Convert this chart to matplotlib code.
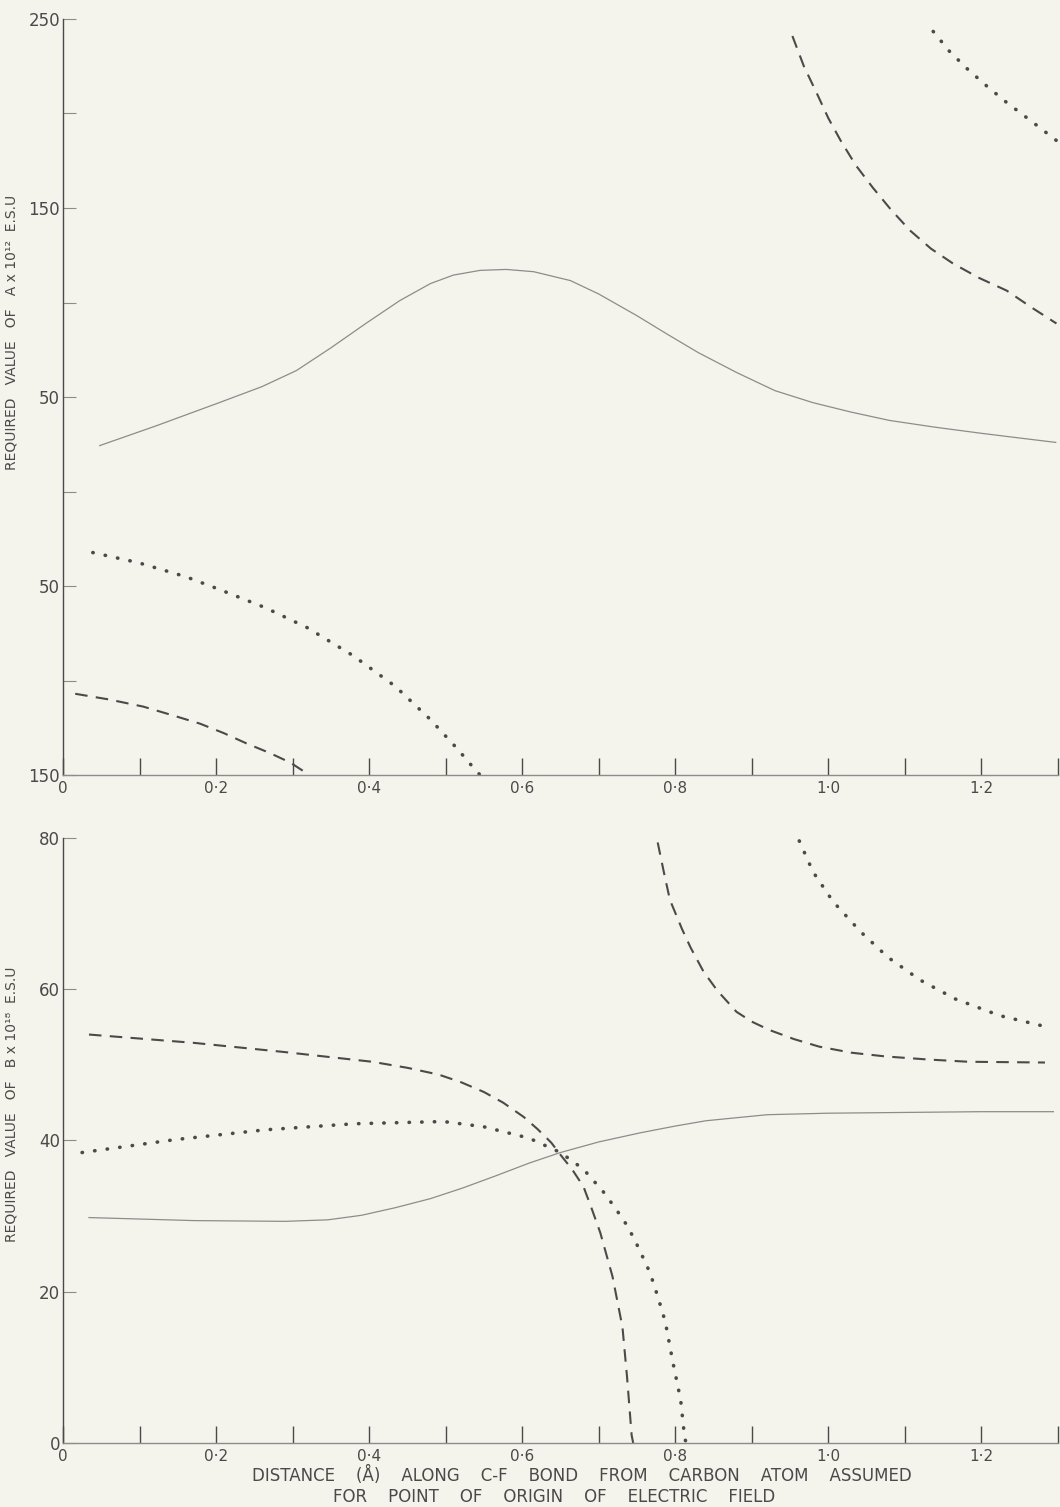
import matplotlib.pyplot as plt
from matplotlib.ticker import FixedLocator, FixedFormatter

# ---- panel A (top) ----
a_solid_x = [0.048, 0.12, 0.204, 0.26, 0.305, 0.35, 0.396, 0.44, 0.48, 0.51, 0.545, 0.579, 0.615, 0.663, 0.70,
             0.75, 0.788, 0.83, 0.88, 0.93, 0.98, 1.03, 1.08, 1.14, 1.2, 1.25, 1.297]
a_solid_y = [24.3, 34.5, 47.0, 55.5, 64.0, 76.0, 89.0, 101.0, 110.0, 114.5, 117.0, 117.5, 116.3, 111.6, 104.5,
             93.0, 83.6, 73.5, 63.0, 53.4, 47.0, 42.0, 37.6, 34.0, 30.8, 28.3, 26.0]

a_dot_x = [0.039, 0.098, 0.16, 0.205, 0.264, 0.319, 0.379, 0.434, 0.48, 0.515, 0.536, 0.545]
a_dot_y = [-32.3, -37.6, -45.0, -51.9, -61.4, -72.0, -86.8, -103.0, -120.6, -136.0, -146.0, -150.0]

a_dash_x = [0.016, 0.06, 0.105, 0.14, 0.179, 0.21, 0.24, 0.27, 0.297, 0.319]
a_dash_y = [-107.0, -110.0, -113.8, -118.0, -122.8, -127.8, -133.3, -138.3, -143.4, -149.2]

a_dash2_x = [0.953, 0.968, 0.985, 1.0, 1.016, 1.036, 1.058, 1.082, 1.107, 1.134, 1.163, 1.197, 1.233, 1.265, 1.298]
a_dash2_y = [241.0, 225.0, 210.6, 197.5, 185.7, 172.5, 160.8, 149.0, 138.0, 128.5, 120.6, 113.0, 106.3, 97.5, 88.9]

a_dot2_x = [1.137, 1.158, 1.181, 1.207, 1.233, 1.265, 1.298]
a_dot2_y = [243.4, 233.0, 223.8, 214.5, 205.8, 196.0, 185.7]

# ---- panel B (bottom) ----
b_solid_x = [0.034, 0.171, 0.29, 0.346, 0.39, 0.434, 0.48, 0.522, 0.565, 0.609, 0.65, 0.70, 0.754, 0.80,
             0.84, 0.92, 1.0, 1.1, 1.2, 1.294]
b_solid_y = [29.8, 29.4, 29.3, 29.5, 30.1, 31.1, 32.3, 33.7, 35.3, 37.0, 38.4, 39.8, 41.0, 41.9,
             42.6, 43.4, 43.6, 43.7, 43.8, 43.8]

b_dash_x = [0.034, 0.171, 0.288, 0.404, 0.45, 0.491, 0.52, 0.55, 0.575, 0.602, 0.62, 0.638, 0.65, 0.665,
            0.68, 0.69, 0.702, 0.718, 0.731, 0.737, 0.743, 0.745]
b_dash_y = [54.0, 52.9, 51.7, 50.4, 49.6, 48.7, 47.7, 46.4, 45.0, 43.1, 41.5, 39.7, 38.1, 36.2,
            33.9, 31.2, 27.8, 22.0, 15.3, 8.7, 1.0, 0.0]

b_dot_x = [0.025, 0.146, 0.264, 0.38, 0.497, 0.55, 0.609, 0.65, 0.68, 0.706, 0.722, 0.738, 0.752, 0.767,
           0.777, 0.787, 0.797, 0.807, 0.812, 0.814]
b_dot_y = [38.4, 40.1, 41.4, 42.2, 42.5, 41.8, 40.3, 38.4, 36.2, 33.2, 31.0, 28.6, 25.8, 22.5,
           19.4, 16.0, 10.6, 5.7, 0.9, 0.0]

b_dash2_x = [0.777, 0.785, 0.793, 0.809, 0.82, 0.837, 0.855, 0.88, 0.9, 0.923, 0.955, 0.988, 1.03, 1.075,
             1.13, 1.183, 1.283]
b_dash2_y = [79.4, 75.5, 71.8, 67.9, 65.5, 62.3, 59.8, 57.0, 55.7, 54.6, 53.4, 52.4, 51.6, 51.1,
             50.7, 50.4, 50.3]

b_dot2_x = [0.962, 0.98, 1.006, 1.042, 1.078, 1.12, 1.166, 1.224, 1.29]
b_dot2_y = [79.6, 75.5, 71.6, 67.6, 64.2, 61.2, 58.7, 56.5, 54.9]

x_ticks = [0.0, 0.1, 0.2, 0.3, 0.4, 0.5, 0.6, 0.7, 0.8, 0.9, 1.0, 1.1, 1.2, 1.3]
x_labels = ["0", "", "0·2", "", "0·4", "", "0·6", "", "0·8", "", "1·0", "", "1·2", ""]
a_ticks = [-150, -100, -50, 0, 50, 100, 150, 200, 250]
a_labels = ["150", "", "50", "", "50", "", "150", "", "250"]
b_ticks = [0, 20, 40, 60, 80]
b_labels = ["0", "20", "40", "60", "80"]

BG = "#f4f4ec"
INK = "#4a4a4a"
SOFT = "#8c8c8c"

plt.rcParams['font.family'] = ['DejaVu Sans']

fig = plt.figure(figsize=(10.6, 15.07), dpi=100, facecolor=BG)
ax_a = fig.add_axes([0.0594, 0.4857, 0.9387, 0.5017], facecolor=BG)
ax_b = fig.add_axes([0.0594, 0.0425, 0.9387, 0.4015], facecolor=BG)

dash_kw = dict(color=INK, linewidth=1.5, linestyle=(0, (6, 4)))
dot_kw = dict(color=INK, linewidth=2.6, linestyle=(0, (0.1, 3.4)), dash_capstyle='round')
solid_kw = dict(color=SOFT, linewidth=0.9)

ax_a.plot(a_solid_x, a_solid_y, **solid_kw)
ax_a.plot(a_dot_x, a_dot_y, **dot_kw)
ax_a.plot(a_dash_x, a_dash_y, **dash_kw)
ax_a.plot(a_dash2_x, a_dash2_y, **dash_kw)
ax_a.plot(a_dot2_x, a_dot2_y, **dot_kw)

ax_b.plot(b_solid_x, b_solid_y, **solid_kw)
ax_b.plot(b_dash_x, b_dash_y, **dash_kw)
ax_b.plot(b_dot_x, b_dot_y, **dot_kw)
ax_b.plot(b_dash2_x, b_dash2_y, **dash_kw)
ax_b.plot(b_dot2_x, b_dot2_y, **dot_kw)

for ax, ticks, labels, lims in [(ax_a, a_ticks, a_labels, (-150, 250)),
                                (ax_b, b_ticks, b_labels, (0, 80))]:
    ax.set_xlim(0, 1.3)
    ax.set_ylim(*lims)
    ax.xaxis.set_major_locator(FixedLocator(x_ticks))
    ax.xaxis.set_major_formatter(FixedFormatter(x_labels))
    ax.yaxis.set_major_locator(FixedLocator(ticks))
    ax.yaxis.set_major_formatter(FixedFormatter(labels))
    for side in ['top', 'right']:
        ax.spines[side].set_visible(False)
    ax.spines['left'].set_color(INK)
    ax.spines['left'].set_linewidth(1.0)
    ax.spines['bottom'].set_color(SOFT)
    ax.spines['bottom'].set_linewidth(1.0)
    ax.tick_params(axis='x', direction='in', length=12, width=1.0, color=INK,
                   labelsize=11, labelcolor=INK, pad=4)
    ax.tick_params(axis='y', direction='in', length=9, width=0.8, color=SOFT,
                   labelsize=12, labelcolor=INK, pad=2)

ax_a.set_ylabel("REQUIRED   VALUE   OF   A x 10¹²  E.S.U", fontsize=10, color=INK)
ax_a.yaxis.set_label_coords(-0.045, 0.585)
ax_b.set_ylabel("REQUIRED   VALUE   OF   B x 10¹⁸  E.S.U", fontsize=10, color=INK)
ax_b.yaxis.set_label_coords(-0.045, 0.56)

fig.text(0.549, 0.0212, "DISTANCE    (Å)    ALONG    C-F    BOND    FROM    CARBON    ATOM    ASSUMED",
         ha='center', va='center', fontsize=12, color=INK)
fig.text(0.523, 0.0066, "FOR    POINT    OF    ORIGIN    OF    ELECTRIC    FIELD",
         ha='center', va='center', fontsize=12, color=INK)

fig.savefig("out.png", dpi=100, facecolor=BG)
